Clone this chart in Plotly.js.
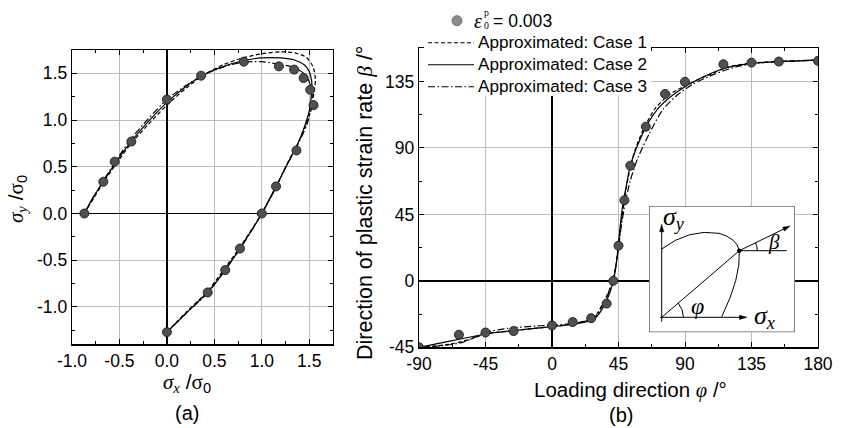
<!DOCTYPE html>
<html>
<head>
<meta charset="utf-8">
<script src="https://cdn.plot.ly/plotly-3.0.1.min.js"></script>
<style>html,body{margin:0;padding:0;background:#fff;}#chart{width:850px;height:428px;}</style>
</head>
<body>
<div id="chart"></div>
<script>
// ---------- (a) yield locus data ----------
const sxExp = [-0.87, -0.67, -0.55, -0.375, 0, 0.36, 0.81, 1.18, 1.34, 1.44, 1.51, 1.545, 1.365, 1.15, 1.0, 0.77, 0.615, 0.43, 0];
const syExp = [0, 0.34, 0.555, 0.77, 1.22, 1.475, 1.625, 1.575, 1.54, 1.45, 1.325, 1.16, 0.675, 0.29, 0, -0.375, -0.605, -0.845, -1.27];

const sxCase1 = [-0.87, -0.67, -0.4, -0.2, 0, 0.2, 0.4, 0.6, 0.8, 1.0, 1.2, 1.35, 1.47, 1.54, 1.565, 1.55, 1.52, 1.46, 1.38, 1.27, 1.15, 1.0, 0.77, 0.6, 0.43, 0.2, 0];
const syCase1 = [0, 0.33, 0.72, 0.95, 1.16, 1.34, 1.49, 1.595, 1.665, 1.71, 1.73, 1.72, 1.67, 1.57, 1.43, 1.3, 1.12, 0.94, 0.75, 0.54, 0.29, 0, -0.36, -0.6, -0.83, -1.06, -1.27];

const sxCase2 = [-0.87, -0.78, -0.67, -0.55, -0.4, -0.2, 0, 0.2, 0.4, 0.6, 0.8, 1.0, 1.2, 1.35, 1.45, 1.5, 1.525, 1.525, 1.5, 1.45, 1.38, 1.28, 1.15, 1.0, 0.88, 0.77, 0.62, 0.43, 0.2, 0];
const syCase2 = [0, 0.17, 0.34, 0.53, 0.74, 0.98, 1.19, 1.36, 1.49, 1.575, 1.635, 1.665, 1.665, 1.64, 1.59, 1.52, 1.42, 1.3, 1.1, 0.93, 0.75, 0.55, 0.29, 0, -0.2, -0.37, -0.6, -0.84, -1.07, -1.27];

const sxCase3 = [-0.87, -0.67, -0.4, -0.2, 0, 0.2, 0.4, 0.6, 0.8, 1.0, 1.17, 1.3, 1.4, 1.47, 1.51, 1.53, 1.52, 1.47, 1.38, 1.27, 1.15, 1.0, 0.77, 0.6, 0.43, 0.2, 0];
const syCase3 = [0, 0.35, 0.77, 1.01, 1.22, 1.37, 1.49, 1.57, 1.62, 1.625, 1.6, 1.575, 1.53, 1.47, 1.38, 1.28, 1.12, 0.94, 0.74, 0.53, 0.28, 0, -0.38, -0.62, -0.85, -1.07, -1.27];

// ---------- (b) direction of plastic strain rate ----------
const phiExp  = [-90, -63, -45, -26, 0, 14, 26.5, 37, 41.5, 45, 49, 53, 63.5, 76.5, 90, 116, 135, 153.5, 180];
const betaExp = [-45, -36.5, -35, -34, -30.2, -27.9, -25.3, -15.4, 0, 23.8, 54.6, 78, 104.4, 126.6, 134.8, 146.7, 147.8, 148.5, 149];

const phiCase1  = [-90, -70, -55, -45, -30, -10, 0, 15, 25, 30, 34, 38, 41, 43, 45, 47, 49, 52, 56, 62, 70, 80, 90, 105, 120, 135, 155, 180];
const betaCase1 = [-45, -43, -39.5, -36, -34.2, -32, -31, -29, -26.5, -23, -16, -8, 0, 9, 24, 40, 55, 72, 88, 103, 117, 126.5, 132, 139, 145, 147.5, 148.7, 149.5];

const phiCase2  = [-90, -70, -50, -40, -20, 0, 15, 25, 30, 34, 38, 41, 43, 44.5, 46, 48, 50, 53, 58, 65, 72, 80, 90, 100, 115, 135, 155, 180];
const betaCase2 = [-45, -41, -37, -35.2, -33, -31, -29.3, -27.3, -24.5, -19, -11, -2, 8, 20, 36, 52, 63, 78, 92, 107, 117, 124.5, 131.5, 137, 143.5, 147.3, 148.5, 149.5];

const phiCase3  = [-90, -75, -60, -45, -30, -10, 0, 15, 25, 30, 34, 38, 41, 43, 45, 47, 50, 53, 58, 66, 75, 85, 95, 110, 125, 140, 160, 180];
const betaCase3 = [-45, -44, -41.5, -35, -32.2, -30.5, -30, -28.8, -26.5, -23.5, -17, -9, 0, 9, 22, 38, 55, 68, 83, 100, 116, 126, 133, 140, 145, 147.5, 148.8, 149.5];

// ---------- tick labels ----------
const sTickVals = [-1, -0.5, 0, 0.5, 1, 1.5];
const sTickText = ['-1.0', '-0.5', '0.0', '0.5', '1.0', '1.5'];
const phiTickVals = [-90, -45, 0, 45, 90, 135, 180];
const phiTickText = ['-90', '-45', '0', '45', '90', '135', '180'];
const betaTickVals = [-45, 0, 45, 90, 135];
const betaTickText = ['-45', '0', '45', '90', '135'];

const legendSymbol = '<i>ε</i>';
const legendIndices = 'p<br>0';
const legendValue = '= 0.003';
const legendLabels = ['Approximated: Case 1', 'Approximated: Case 2', 'Approximated: Case 3'];

// ---------- helpers ----------
const W = 850, H = 428;
const px = v => v / W;
const py = v => 1 - v / H;
const SANS = 'Liberation Sans, Arial, sans-serif';
const SERIF = 'Liberation Serif, Times New Roman, serif';
const TICKFONT = {family: SANS, size: 17.5, color: '#000'};
const TITLE_SIZE = 20.5;
const LEGEND_SIZE = 17.1;
const lineStyles = [
  {dash: '4px,2.5px', width: 1.2},
  {dash: 'solid', width: 1.2},
  {dash: '7px,2.5px,1.5px,2.5px', width: 1.2}
];
const markerStyle = {symbol: 'circle', size: 9, color: '#505050', line: {color: '#262626', width: 1}};

function curve(x, y, i, xa, ya, name) {
  return {x: x, y: y, xaxis: xa, yaxis: ya, type: 'scatter', mode: 'lines',
    line: {color: '#000', width: lineStyles[i].width, dash: lineStyles[i].dash, shape: 'spline', smoothing: 0.7},
    name: name, showlegend: false, hoverinfo: 'skip'};
}

const traces = [
  curve(sxCase1, syCase1, 0, 'x', 'y', legendLabels[0]),
  curve(sxCase2, syCase2, 1, 'x', 'y', legendLabels[1]),
  curve(sxCase3, syCase3, 2, 'x', 'y', legendLabels[2]),
  {x: sxExp, y: syExp, xaxis: 'x', yaxis: 'y', type: 'scatter', mode: 'markers', marker: markerStyle, showlegend: false, hoverinfo: 'skip'},
  curve(phiCase1, betaCase1, 0, 'x2', 'y2', legendLabels[0]),
  curve(phiCase2, betaCase2, 1, 'x2', 'y2', legendLabels[1]),
  curve(phiCase3, betaCase3, 2, 'x2', 'y2', legendLabels[2]),
  {x: phiExp, y: betaExp, xaxis: 'x2', yaxis: 'y2', type: 'scatter', mode: 'markers', marker: markerStyle, showlegend: false, hoverinfo: 'skip'},
  {x: [], y: [], xaxis: 'x3', yaxis: 'y3', type: 'scatter', mode: 'lines', showlegend: false, hoverinfo: 'skip'}
];

function axisCommon(extra) {
  return Object.assign({
    showline: true, linecolor: '#000', linewidth: 1.3, mirror: 'ticks',
    ticks: 'inside', ticklen: 5, tickwidth: 1, tickcolor: '#000',
    showgrid: true, gridcolor: '#bdbdbd', gridwidth: 1,
    zeroline: true, zerolinecolor: '#000', zerolinewidth: 1.6,
    tickfont: TICKFONT, tickmode: 'array', fixedrange: true
  }, extra);
}

// inset geometry (inset axes are in pixel-like units, origin at box bottom-left)
const insetW = 146, insetH = 126.3;
const O = [12.7, 15];      // origin of sketch axes
const P = [90.3, 81.6];    // point on yield curve

function iline(x0, y0, x1, y1) {
  return {type: 'line', xref: 'x3', yref: 'y3', x0: x0, y0: y0, x1: x1, y1: y1, line: {color: '#000', width: 1}, layer: 'above'};
}
function ipath(p, fill) {
  return {type: 'path', xref: 'x3', yref: 'y3', path: p, fillcolor: fill || 'rgba(0,0,0,0)', line: {color: '#000', width: fill ? 0.5 : 1}, layer: 'above'};
}

// manual legend (paper pixel positions)
const legRows = [42.7, 64.7, 86.7];
const legShapes = [
  {type: 'rect', xref: 'paper', yref: 'paper', x0: px(424), x1: px(651), y0: py(6), y1: py(96), fillcolor: '#fff', line: {width: 0}, layer: 'above'},
  {type: 'circle', xref: 'paper', yref: 'paper', x0: px(452), x1: px(462), y0: py(25.7), y1: py(15.7), fillcolor: '#8c8c8c', line: {color: '#6e6e6e', width: 1}, layer: 'above'}
];
legRows.forEach((yy, i) => {
  legShapes.push({type: 'line', xref: 'paper', yref: 'paper', x0: px(428), x1: px(474), y0: py(yy), y1: py(yy),
    line: {color: '#000', width: 1.1, dash: lineStyles[i].dash}, layer: 'above'});
});

const shapes = legShapes.concat([
  {type: 'rect', xref: 'x3', yref: 'y3', x0: 0, x1: insetW, y0: 0, y1: insetH, fillcolor: '#fff', line: {color: '#666', width: 1.6}, layer: 'above'},
  iline(O[0], 10.6, O[0], 102),
  ipath('M 12.7 108 L 10.6 100.5 L 14.8 100.5 Z', '#000'),
  iline(11, O[1], 92, O[1]),
  ipath('M 98 15 L 90.5 12.9 L 90.5 17.1 Z', '#000'),
  iline(O[0], O[1], P[0], P[1]),
  iline(P[0], P[1], 135, 103.4),
  ipath('M 141 106.3 L 133.6 105.0 L 135.5 101.2 Z', '#000'),
  iline(P[0], P[1], 137.7, P[1]),
  ipath('M 12.7 83.3 Q 40 104 70 99 Q 88 94 90.3 81.6 Q 92 55 72.7 15.6'),
  ipath('M 34.4 15 Q 34.4 23 29.2 29.1'),
  ipath('M 108.3 81.6 Q 108.3 86 106.5 89.4'),
  {type: 'circle', xref: 'x3', yref: 'y3', x0: P[0] - 2.2, x1: P[0] + 2.2, y0: P[1] - 2.2, y1: P[1] + 2.2, fillcolor: '#000', line: {color: '#000', width: 0}, layer: 'above'}
]);

function label(xp, yp, text, size, family, angle, anchor) {
  return {xref: 'paper', yref: 'paper', x: px(xp), y: py(yp), xanchor: anchor || 'center', yanchor: 'middle',
    text: text, showarrow: false, textangle: angle || 0, borderpad: 0, font: {family: family || SANS, size: size, color: '#000'}};
}
function ilabel(x, y, text, size) {
  return {xref: 'x3', yref: 'y3', x: x, y: y, xanchor: 'center', yanchor: 'middle', text: text, showarrow: false,
    font: {family: SERIF, size: size, color: '#000'}};
}

const annotations = [
  ilabel(25, 114, '<i>σ</i><sub><i>y</i></sub>', 26),
  ilabel(115, 15, '<i>σ</i><sub><i>x</i></sub>', 26),
  ilabel(48, 26, '<i>φ</i>', 24),
  ilabel(125, 90, '<i>β</i>', 21),
  label(17, 199, '<span style="font-family:Liberation Serif"><i>σ</i><sub><i>y</i></sub></span> /<span style="font-family:Liberation Serif">σ</span><sub>0</sub>', 21, SANS, -90),
  label(187, 383, '<span style="font-family:Liberation Serif"><i>σ</i><sub><i>x</i></sub></span> /<span style="font-family:Liberation Serif">σ</span><sub>0</sub>', 21),
  label(187, 413, '(a)', 20),
  label(365, 203, 'Direction of plastic strain rate <span style="font-family:Liberation Serif"><i>β</i></span> /°', 21.5, SANS, -90),
  label(630, 390, 'Loading direction <span style="font-family:Liberation Serif"><i>φ</i></span> /°', TITLE_SIZE),
  label(621, 415, '(b)', 20),
  // legend texts
  label(473, 21, legendSymbol, 20, SERIF, 0, 'left'),
  label(483, 18.8, legendIndices, 9.8, SERIF, 0, 'left'),
  label(492, 21, legendValue, LEGEND_SIZE + 0.5, SANS, 0, 'left'),
  label(477, legRows[0], legendLabels[0], LEGEND_SIZE, SANS, 0, 'left'),
  label(477, legRows[1], legendLabels[1], LEGEND_SIZE, SANS, 0, 'left'),
  label(477, legRows[2], legendLabels[2], LEGEND_SIZE, SANS, 0, 'left')
];

const layout = {
  width: W, height: H,
  margin: {l: 0, r: 0, t: 0, b: 0},
  paper_bgcolor: '#fff', plot_bgcolor: '#fff',
  showlegend: false,
  xaxis: axisCommon({domain: [px(72), px(333)], range: [-1, 1.75], anchor: 'y', tickvals: sTickVals, ticktext: sTickText,
    minor: {tickmode: 'linear', tick0: -1, dtick: 0.25, ticks: 'inside', ticklen: 3, tickcolor: '#000', showgrid: false}}),
  yaxis: axisCommon({domain: [1 - 344.3 / H, 1 - 50 / H], range: [-1.4, 1.75], anchor: 'x', tickvals: sTickVals, ticktext: sTickText,
    minor: {tickmode: 'linear', tick0: -1, dtick: 0.25, ticks: 'inside', ticklen: 3, tickcolor: '#000', showgrid: false}}),
  xaxis2: axisCommon({domain: [px(419), px(818)], range: [-90, 180], anchor: 'y2', tickvals: phiTickVals, ticktext: phiTickText,
    minor: {tickmode: 'linear', tick0: -90, dtick: 22.5, ticks: 'inside', ticklen: 3, tickcolor: '#000', showgrid: false}}),
  yaxis2: axisCommon({domain: [1 - 347.3 / H, 1 - 48.3 / H], range: [-45, 157.5], anchor: 'x2', tickvals: betaTickVals, ticktext: betaTickText,
    minor: {tickmode: 'linear', tick0: -45, dtick: 22.5, ticks: 'inside', ticklen: 3, tickcolor: '#000', showgrid: false}}),
  xaxis3: {domain: [px(649), px(649 + insetW)], range: [0, insetW], anchor: 'y3', visible: false, fixedrange: true},
  yaxis3: {domain: [1 - 332.3 / H, 1 - (332.3 - insetH) / H], range: [0, insetH], anchor: 'x3', visible: false, fixedrange: true},
  shapes: shapes,
  annotations: annotations
};

Plotly.newPlot('chart', traces, layout, {staticPlot: true, displayModeBar: false});
</script>
</body>
</html>
